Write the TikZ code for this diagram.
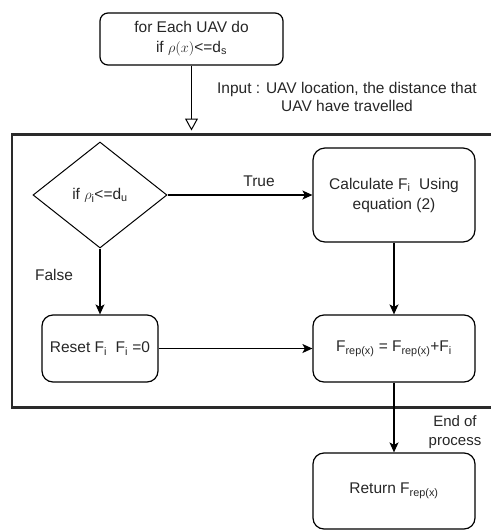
\documentclass[tikz,border=0pt]{standalone}
\usepackage{fontspec}
\setmainfont{Liberation Sans}
\usetikzlibrary{shapes.geometric,arrows.meta}
\definecolor{ink}{HTML}{262626}
\definecolor{framecol}{HTML}{2A2A2A}
\newcommand{\sbs}[1]{\textsubscript{#1}}
\begin{document}
\begin{tikzpicture}[x=1pt,y=-1pt,
  every node/.style={font=\fontsize{15.5}{20}\selectfont, text=ink},
  box/.style={draw=black, line width=1.2pt, rounded corners=11pt, align=center, inner sep=0pt},
  decision/.style={draw=black, line width=1pt, diamond, inner sep=0pt, align=center},
  flow/.style={line width=1.2pt, -{Stealth[length=10pt,width=9pt,inset=2.5pt]}},
  openflow/.style={line width=1pt, -{Triangle[open,length=12pt,width=13pt]}},
  tag/.style={align=center, inner sep=0pt}]
\useasboundingbox (0,0) rectangle (491,531);

% loop body frame (open on the right)
\draw[line width=2.2pt, framecol] (491,134.5) -- (12,134.5) -- (12,407.5) -- (491,407.5);

% nodes
\node[box, rounded corners=8pt, minimum width=183pt, minimum height=52pt] (start) at (191.5,39)
  {for Each UAV do\\ if $\rho(x)$<=d\sbs{s}};
\node[decision, minimum width=134pt, minimum height=106pt] (check) at (100,195)
  {if $\rho$\sbs{i}<=d\sbs{u}};
\node[box, rounded corners=12pt, minimum width=162pt, minimum height=94pt] (calc) at (394,195)
  {Calculate F\sbs{i}\ \ Using\\ equation (2)};
\node[box, minimum width=116pt, minimum height=67pt] (reset) at (100,348.5)
  {Reset F\sbs{i}\ \ F\sbs{i} =0};
\node[box, minimum width=162pt, minimum height=67pt] (sum) at (394,348.5)
  {F\sbs{rep(x)} = F\sbs{rep(x)}+F\sbs{i}};
\node[box, minimum width=162pt, minimum height=76pt] (ret) at (394,491)
  {Return F\sbs{rep(x)}};

% labels
\node[tag, font=\fontsize{15.5}{18}\selectfont] (input) at (347,97)
  {Input : UAV location, the distance that\\ UAV have travelled};
\node[tag] (truelbl) at (259,181) {True};
\node[tag] (falselbl) at (54,275) {False};
\node[tag, font=\fontsize{15}{19}\selectfont] (endlbl) at (455,432) {End of\\ process};

% connectors
\coordinate (gate) at (191.5,130.5);
\draw[openflow] (start.south) -- (gate);
\draw[flow] (check.east) -- (calc.west);
\draw[flow] (check.south) -- (reset.north);
\draw[flow] (calc.south) -- (sum.north);
\draw[flow] (reset.east) -- (sum.west);
\draw[flow] (sum.south) -- (ret.north);
\end{tikzpicture}
\end{document}
